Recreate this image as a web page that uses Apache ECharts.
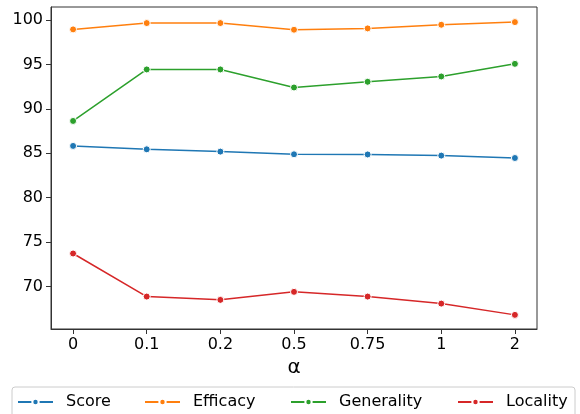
<!DOCTYPE html>
<html><head><meta charset="utf-8">
<script src="https://cdn.jsdelivr.net/npm/echarts@6/dist/echarts.min.js"></script>
<style>html,body{margin:0;padding:0;background:#fff}#c{width:580px;height:414px}</style>
</head><body><div id="c"></div>
<script>
const categories = ['0', '0.1', '0.2', '0.5', '0.75', '1', '2'];
const score = [85.83, 85.45, 85.19, 84.89, 84.87, 84.74, 84.47];
const efficacy = [98.95, 99.66, 99.66, 98.91, 99.06, 99.47, 99.77];
const generality = [88.64, 94.44, 94.44, 92.41, 93.05, 93.65, 95.07];
const locality = [73.72, 68.87, 68.5, 69.4, 68.87, 68.08, 66.81];
const yTicks = [70, 75, 80, 85, 90, 95, 100];
const seriesNames = ['Score', 'Efficacy', 'Generality', 'Locality'];
const colors = ['#1f77b4', '#ff7f0e', '#2ca02c', '#d62728'];
const allData = [score, efficacy, generality, locality];
const legendLeft = [17, 144, 290, 457];

const font = 'DejaVu Sans';
const chart = echarts.init(document.getElementById('c'), null, {renderer: 'canvas'});
const series = seriesNames.map((n, i) => ({
  name: n, type: 'line',
  data: allData[i].map((v, j) => [j, v]),
  symbol: 'circle', symbolSize: 7,
  lineStyle: {color: colors[i], width: 1.5},
  itemStyle: {color: colors[i], borderColor: '#fff', borderWidth: 1},
  emphasis: {disabled: true},
  animation: false
}));
const legends = seriesNames.map((n, i) => ({
  data: [n], left: legendLeft[i], top: 394,
  itemWidth: 35, itemHeight: 8, padding: 0,
  textStyle: {fontFamily: font, fontSize: 16, color: '#000', padding: [0, 0, 0, 8]},
  selectedMode: false
}));
chart.setOption({
  animation: false,
  grid: {left: 51, top: 7, right: 43, bottom: 85, show: true, borderColor: '#333', borderWidth: 1},
  legend: legends,
  graphic: [{type: 'rect', shape: {x: 12, y: 387, width: 563, height: 40, r: 3},
    style: {fill: 'rgba(255,255,255,0.8)', stroke: '#ccc', lineWidth: 1}, z: 0}],
  xAxis: {
    type: 'value', min: -0.3, max: 6.3,
    splitLine: {show: false},
    axisLine: {show: true, onZero: false, lineStyle: {color: '#333', width: 1}},
    axisTick: {show: true, length: 5, customValues: categories.map((c, i) => i), lineStyle: {color: '#333'}},
    axisLabel: {customValues: categories.map((c, i) => i), formatter: v => categories[Math.round(v)],
      fontFamily: font, fontSize: 16, color: '#000', margin: 8},
    name: 'α', nameLocation: 'middle', nameGap: 29,
    nameTextStyle: {fontFamily: font, fontSize: 20, color: '#000'}
  },
  yAxis: {
    type: 'value', min: 65.22, max: 101.47,
    splitLine: {show: false},
    axisLine: {show: true, onZero: false, lineStyle: {color: '#333', width: 1}},
    axisTick: {show: true, length: 5, customValues: yTicks, lineStyle: {color: '#333'}},
    axisLabel: {customValues: yTicks, fontFamily: font, fontSize: 16, color: '#000', margin: 8}
  },
  series: series
});
</script></body></html>
